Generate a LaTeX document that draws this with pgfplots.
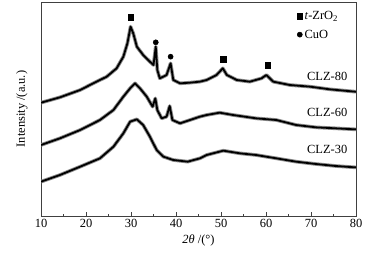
\documentclass[border=0pt]{standalone}
\usepackage{fontspec}
\setmainfont{Liberation Serif}
\usepackage{pgfplots}
\pgfplotsset{compat=1.18}
\usetikzlibrary{calc}

% y values are read positions (down = larger), so y dir=reverse
\pgfplotstableread{
x z
10 308
14.2 292
18.7 270
21.6 250
24.6 230
26.8 205
28.3 170
29.2 130
29.9 80
30.5 100
31.3 140
32.7 165
34.2 185
35.0 195
35.5 140
35.85 210
36.4 235
37.9 225
38.8 190
39.4 240
40.9 250
43.1 248
45.3 245
46.8 240
49.0 225
50.4 205
51.3 225
53.5 240
56.4 245
59.0 235
60.1 225
61.6 245
65.3 255
69.8 260
74.2 268
79.8 275
80 275
}\clzeighty

\pgfplotstableread{
x z
10 435
14.2 415
18.7 390
23.1 360
26.1 330
28.3 290
29.8 265
30.9 250
32.0 265
33.5 290
34.8 320
35.4 295
35.85 330
36.8 355
37.9 350
38.6 318
39.2 360
40.9 370
43.1 360
45.3 350
46.8 345
49.7 338
52.7 345
57.8 355
62.3 360
66.7 375
71.1 382
75.5 385
79.8 388
80 388
}\clzsixty

\pgfplotstableread{
x z
10 545
14.2 525
18.7 500
23.1 475
26.1 440
28.3 400
29.8 365
31.3 358
32.7 375
34.2 410
35.7 450
37.2 470
39.4 480
42.6 485
45.3 475
46.8 465
50.5 452
54.2 460
57.8 465
62.3 475
66.7 485
71.1 492
75.5 498
79.8 502
80 502
}\clzthirty

\begin{document}
\begin{tikzpicture}
\begin{axis}[
    scale only axis,
    width=315bp, height=214bp,
    xmin=10, xmax=80,
    ymin=6, ymax=648, y dir=reverse,
    axis line style={black!75},
    xtick={10,20,...,80},
    minor xtick={15,25,...,75},
    ytick=\empty,
    tick align=inside,
    xtick pos=bottom,
    major tick length=4bp, minor tick length=2.5bp,
    tick style={black!75},
    /pgf/number format/assume math mode=true,
    tick label style={font=\fontsize{12.5}{14}\selectfont},
    label style={font=\fontsize{12.5}{14}\selectfont},
    xlabel={\textit{2θ} /(°)},
    ylabel={Intensity /(a.u.)},
    ylabel style={yshift=10bp},
    legend style={draw=none, fill=none, at={(0.812,0.968)}, anchor=north west,
        font=\fontsize{12.5}{14}\selectfont, row sep=5bp,
        inner xsep=0pt, inner ysep=0pt},
    legend cell align=left,
]
\addplot[only marks, mark=square*, mark size=2.8bp, black] coordinates {(29.9,52) (50.5,178) (60.4,195)};
\addlegendentry{\textit{t}-ZrO\textsubscript{2}}
\addplot[only marks, mark=*, mark size=2.6bp, black] coordinates {(35.5,127) (38.8,170)};
\addlegendentry{CuO}
\addplot[black!45, line width=3.6bp, line join=round, forget plot] table[x=x, y=z] {\clzeighty};
\addplot[black!45, line width=3.6bp, line join=round, forget plot] table[x=x, y=z] {\clzsixty};
\addplot[black!45, line width=3.6bp, line join=round, forget plot] table[x=x, y=z] {\clzthirty};
\addplot[black, line width=1.8bp, line join=round, forget plot] table[x=x, y=z] {\clzeighty};
\addplot[black, line width=1.8bp, line join=round, forget plot] table[x=x, y=z] {\clzsixty};
\addplot[black, line width=1.8bp, line join=round, forget plot] table[x=x, y=z] {\clzthirty};
\node[font=\fontsize{12.5}{14}\selectfont] at (axis cs:73.6,228) {CLZ-80};
\node[font=\fontsize{12.5}{14}\selectfont] at (axis cs:73.6,338) {CLZ-60};
\node[font=\fontsize{12.5}{14}\selectfont] at (axis cs:73.6,448) {CLZ-30};
\end{axis}
\path ($(current axis.south west)+(-41bp,-42bp)$) rectangle ($(current axis.north east)+(23bp,2bp)$);
\end{tikzpicture}
\end{document}
